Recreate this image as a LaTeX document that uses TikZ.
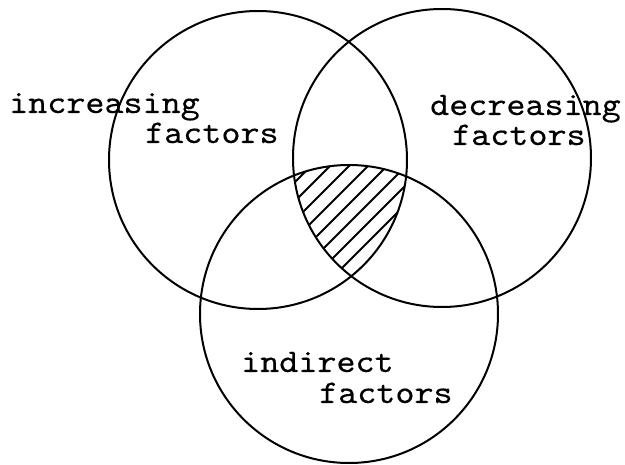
\documentclass[tikz,border=0pt]{standalone}
\usepackage{fontspec}
\usepackage{tikz}
\newfontfamily\labelfont[FakeStretch=1.1,FakeBold=0.3]{lmmono10-regular.otf}

\begin{document}
\begin{tikzpicture}[x=1pt, y=-1pt,
        ring/.style={line width=2pt},
        hatch/.style={line width=1.8pt},
        every node/.style={font=\labelfont\fontsize{33}{35}\selectfont, inner sep=0pt, anchor=base west}]
        \useasboundingbox (0,0) rectangle (625,465);
        % Define the centres
        \coordinate (L) at (258,160);
        \coordinate (R) at (442,158);
        \coordinate (B) at (349,314);

        % shaded common part
        \begin{scope}
        \clip (L) circle[radius=149];
        \clip (R) circle[radius=149];
        \clip (B) circle[radius=149];
        \foreach \k in {0,19,...,420}
            \draw[hatch] (\k,420) -- (\k+300,120);
        \end{scope}

        \draw[ring] (L) circle[radius=149];
        \draw[ring] (R) circle[radius=149];
        \draw[ring] (B) circle[radius=149];

        % Define the labels
        \node (inc1) at (9,113) {increasing};
        \node (inc2) at (145,143) {factors};
        \node (dec1) at (430,115) {decreasing};
        \node (dec2) at (452,145) {factors};
        \node (ind1) at (241,372) {indirect};
        \node (ind2) at (319,403) {factors};
    \end{tikzpicture}
\end{document}
